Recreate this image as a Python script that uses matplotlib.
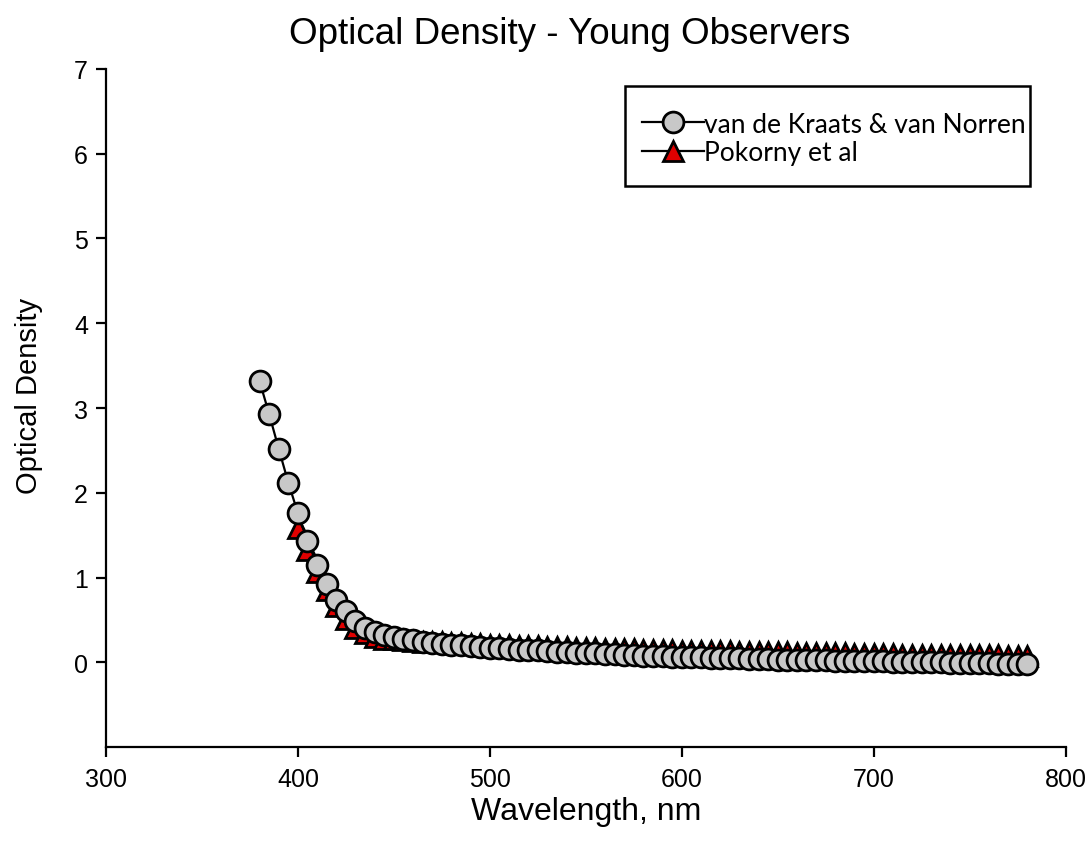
import numpy as np
import matplotlib
matplotlib.use("Agg")
import matplotlib.pyplot as plt
from matplotlib.patches import Rectangle

# van de Kraats & van Norren, 380-780 nm every 5 nm
wl_kraats = np.arange(380, 785, 5)
od_kraats = [
    3.32, 2.93, 2.52, 2.12, 1.76, 1.43, 1.15, 0.92, 0.74, 0.60, 0.49, 0.41, 0.36,  # 380-440
    0.32, 0.30, 0.28, 0.26, 0.245, 0.23, 0.22, 0.21, 0.20, 0.19, 0.18, 0.17,      # 445-500
    0.165, 0.16, 0.15, 0.145, 0.14, 0.13, 0.125, 0.12, 0.115, 0.11,               # 505-550
    0.105, 0.10, 0.095, 0.09, 0.085, 0.08, 0.076, 0.072, 0.068, 0.064,            # 555-600
    0.06, 0.057, 0.054, 0.051, 0.048, 0.045, 0.042, 0.039, 0.036, 0.033,          # 605-650
    0.03, 0.028, 0.026, 0.024, 0.022, 0.02, 0.018, 0.016, 0.014, 0.012,           # 655-700
    0.01, 0.008, 0.006, 0.004, 0.002, 0.0, -0.002, -0.004, -0.006, -0.008,        # 705-750
    -0.01, -0.012, -0.014, -0.016, -0.018, -0.02,                                 # 755-780
]

# Pokorny et al, 400-780 nm every 5 nm
wl_pokorny = np.arange(400, 785, 5)
od_pokorny = [
    1.58, 1.32, 1.07, 0.85, 0.66, 0.51, 0.41, 0.34, 0.30,                         # 400-440
    0.28, 0.27, 0.26, 0.25, 0.245, 0.24, 0.235, 0.23, 0.225, 0.22, 0.215, 0.21,   # 445-500
    0.205, 0.20, 0.196, 0.192, 0.188, 0.184, 0.18, 0.176, 0.172, 0.168,           # 505-550
    0.165, 0.162, 0.159, 0.156, 0.153, 0.15, 0.147, 0.144, 0.141, 0.138,          # 555-600
    0.136, 0.134, 0.132, 0.13, 0.128, 0.126, 0.124, 0.122, 0.12, 0.118,           # 605-650
    0.116, 0.114, 0.112, 0.11, 0.108, 0.106, 0.104, 0.102, 0.10, 0.098,           # 655-700
    0.096, 0.094, 0.092, 0.09, 0.089, 0.088, 0.087, 0.086, 0.085, 0.084,          # 705-750
    0.083, 0.082, 0.081, 0.08, 0.079, 0.078,                                      # 755-780
]

plt.rcParams['font.family'] = ['Liberation Sans', 'DejaVu Sans']

fig = plt.figure(figsize=(10.88, 8.53), dpi=100)
ax = fig.add_axes([0.0974, 0.123, 0.882, 0.795])

# triangles sit behind the circles
l2, = ax.plot(wl_pokorny, od_pokorny, color='black', lw=1.6, marker='^',
              markersize=15, markerfacecolor='#e00000', markeredgecolor='black',
              markeredgewidth=2, zorder=2, label='Pokorny et al')
l1, = ax.plot(wl_kraats, od_kraats, color='black', lw=1.6, marker='o',
              markersize=15, markerfacecolor='#c8c8c8', markeredgecolor='black',
              markeredgewidth=2, zorder=3, label='van de Kraats & van Norren')

ax.set_xlim(300, 800)
ax.set_ylim(-1, 7)
ax.set_xticks([300, 400, 500, 600, 700, 800])
ax.set_yticks(range(0, 8))
for s in ['top', 'right']:
    ax.spines[s].set_visible(False)
for s in ['left', 'bottom']:
    ax.spines[s].set_linewidth(1.6)
ax.tick_params(direction='out', length=7, width=1.6, labelsize=18)
ax.tick_params(axis='x', pad=7)
ax.tick_params(axis='y', pad=6)

ax.set_xlabel('Wavelength, nm', fontsize=23, labelpad=4)
ax.set_ylabel('Optical Density', fontsize=21)
ax.yaxis.set_label_coords(-0.066, 0.519)
ax.set_title('Optical Density - Young Observers', fontsize=26.5, pad=19, x=0.483)

# legend without its own frame, box drawn separately (text sits close to the right edge)
leg = ax.legend(handles=[l1, l2], loc='upper left', bbox_to_anchor=(0.559, 0.937),
                prop={'family': 'Lato', 'size': 19}, frameon=False,
                handlelength=2.35, handletextpad=0.0,
                borderpad=0, labelspacing=0.12, borderaxespad=0)
ax.add_patch(Rectangle((0.5406, 0.8274), 0.4219, 0.1476, transform=ax.transAxes,
                       fill=False, edgecolor='black', lw=1.8, zorder=5, clip_on=False))

fig.savefig('out.png', dpi=100)
